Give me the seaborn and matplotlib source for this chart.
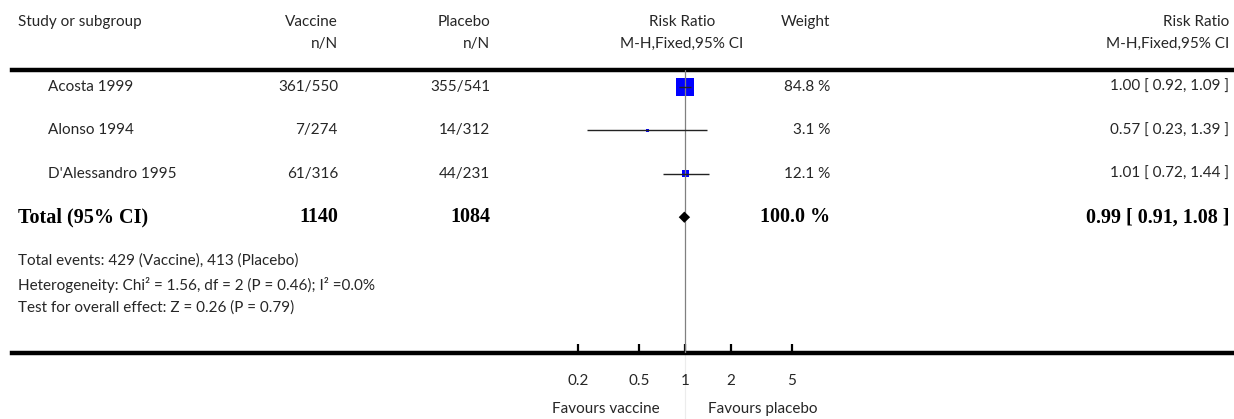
import matplotlib
matplotlib.use("Agg")
import matplotlib.pyplot as plt
import seaborn as sns
import pandas as pd
import numpy as np

# данные исследований
studies = ["Acosta 1999", "Alonso 1994", "D'Alessandro 1995"]
vac_events = [361, 7, 61]
vac_total = [550, 274, 316]
pla_events = [355, 14, 44]
pla_total = [541, 312, 231]
rr = [1.00, 0.57, 1.01]
ci_low = [0.92, 0.23, 0.72]
ci_high = [1.09, 1.39, 1.44]
weights = [84.8, 3.1, 12.1]

# итог
total_vac = 1140
total_pla = 1084
total_weight = 100.0
total_rr, total_low, total_high = 0.99, 0.91, 1.08

footnotes = [
    "Total events: 429 (Vaccine), 413 (Placebo)",
    "Heterogeneity: Chi² = 1.56, df = 2 (P = 0.46); I² =0.0%",
    "Test for overall effect: Z = 0.26 (P = 0.79)",
]
xticks = [0.2, 0.5, 1, 2, 5]
xtick_labels = ["0.2", "0.5", "1", "2", "5"]

sns.set_theme(style="white")
plt.rcParams['font.family'] = ['Lato', 'DejaVu Sans']

W, H = 1234, 419
fig = plt.figure(figsize=(W / 100, H / 100), dpi=100)

top_px, bot_px = 70, 353
ax = fig.add_axes([12 / W, (H - bot_px) / H, 1 - 12 / W, (bot_px - top_px) / H])

row_px = 43.4
ax.set_xscale("log")
ax.set_xlim(10 ** ((12 - 685) / 153), 10 ** ((1234 - 685) / 153))
ax.set_ylim((bot_px - 87) / row_px, (top_px - 87) / row_px)

df = pd.DataFrame({"study": studies, "rr": rr, "lo": ci_low, "hi": ci_high,
                   "weight": weights, "row": range(len(studies))})

txt = "#262626"
fs = 11

# линия отсутствия эффекта
ax.axvline(1, color="#808080", lw=0.9, zorder=4)
ax.axvline(1, ymin=-(H - bot_px) / (bot_px - top_px), ymax=0, color="#ececec",
           lw=0.8, clip_on=False, zorder=0)

# квадраты исследований
sns.scatterplot(data=df, x="rr", y="row", size="weight",
                sizes={w: 2.2 * w for w in weights}, marker="s",
                color="#0000ff", linewidth=0, legend=False, ax=ax, zorder=3)
ax.hlines(df["row"], df["lo"], df["hi"], color="#222222", lw=1.0, zorder=5)

# ромб итога
ty = len(studies)
ax.fill([total_low, total_rr, total_high, total_rr],
        [ty, ty - 0.13, ty, ty + 0.13], color="black", lw=0, zorder=5)

# оси
for s in ["left", "right"]:
    ax.spines[s].set_visible(False)
for s in ["top", "bottom"]:
    ax.spines[s].set_linewidth(3.2)
    ax.spines[s].set_color("black")
ax.set_yticks([])
ax.set_xticks(xticks)
ax.set_xticklabels(xtick_labels)
ax.minorticks_off()
ax.tick_params(axis="x", which="major", bottom=True, top=False, direction="in",
               length=6.5, width=1.6, color="black", pad=15, labelsize=fs,
               labelcolor=txt)
ax.set_xlabel("")
ax.set_ylabel("")


def px(x):
    return (x - 12) / (W - 12)


col_vac, col_pla, col_w, col_rr = 338, 490, 830, 1229

# заголовки
hy1, hy2 = 1 - 22 / H, 1 - 44 / H
fig.text(18 / W, hy1, "Study or subgroup", ha="left", va="center", fontsize=fs, color=txt)
fig.text(col_vac / W, hy1, "Vaccine", ha="right", va="center", fontsize=fs, color=txt)
fig.text(col_vac / W, hy2, "n/N", ha="right", va="center", fontsize=fs, color=txt)
fig.text(col_pla / W, hy1, "Placebo", ha="right", va="center", fontsize=fs, color=txt)
fig.text(col_pla / W, hy2, "n/N", ha="right", va="center", fontsize=fs, color=txt)
fig.text(682 / W, hy1, "Risk Ratio", ha="center", va="center", fontsize=fs, color=txt)
fig.text(682 / W, hy2, "M-H,Fixed,95% CI", ha="center", va="center", fontsize=fs, color=txt)
fig.text(col_w / W, hy1, "Weight", ha="right", va="center", fontsize=fs, color=txt)
fig.text(col_rr / W, hy1, "Risk Ratio", ha="right", va="center", fontsize=fs, color=txt)
fig.text(col_rr / W, hy2, "M-H,Fixed,95% CI", ha="right", va="center", fontsize=fs, color=txt)

for i in range(len(studies)):
    kw = dict(transform=ax.transAxes, va="center", fontsize=fs, color=txt)
    yy = ax.transAxes.inverted().transform(ax.transData.transform((1, i)))[1]
    ax.text(px(48), yy, studies[i], ha="left", **kw)
    ax.text(px(col_vac), yy, f"{vac_events[i]}/{vac_total[i]}", ha="right", **kw)
    ax.text(px(col_pla), yy, f"{pla_events[i]}/{pla_total[i]}", ha="right", **kw)
    ax.text(px(col_w), yy, f"{weights[i]:.1f} %", ha="right", **kw)
    ax.text(px(col_rr), yy, f"{rr[i]:.2f} [ {ci_low[i]:.2f}, {ci_high[i]:.2f} ]",
            ha="right", **kw)

# строка итога
yy = ax.transAxes.inverted().transform(ax.transData.transform((1, ty)))[1]
bkw = dict(transform=ax.transAxes, va="center", fontsize=14.5, color="black",
           family="Liberation Serif", fontweight="bold")
ax.text(px(18), yy, "Total (95% CI)", ha="left", **bkw)
ax.text(px(col_vac), yy, f"{total_vac}", ha="right", **bkw)
ax.text(px(col_pla), yy, f"{total_pla}", ha="right", **bkw)
ax.text(px(col_w), yy, f"{total_weight:.1f} %", ha="right", **bkw)
ax.text(px(col_rr), yy, f"{total_rr:.2f} [ {total_low:.2f}, {total_high:.2f} ]",
        ha="right", **bkw)

# примечания
for note, ypx in zip(footnotes, [261, 285, 308]):
    ax.text(px(18), (bot_px - ypx) / (bot_px - top_px), note, transform=ax.transAxes,
            ha="left", va="center", fontsize=fs, color=txt)

# подписи под осью
fy = (bot_px - 409) / (bot_px - top_px)
ax.annotate("Favours vaccine", xy=(1, fy), xycoords=("data", "axes fraction"),
            xytext=(-18, 0), textcoords="offset points", ha="right", va="center",
            fontsize=fs, color=txt, annotation_clip=False)
ax.annotate("Favours placebo", xy=(1, fy), xycoords=("data", "axes fraction"),
            xytext=(16.5, 0), textcoords="offset points", ha="left", va="center",
            fontsize=fs, color=txt, annotation_clip=False)

fig.savefig("out.png", dpi=100)
